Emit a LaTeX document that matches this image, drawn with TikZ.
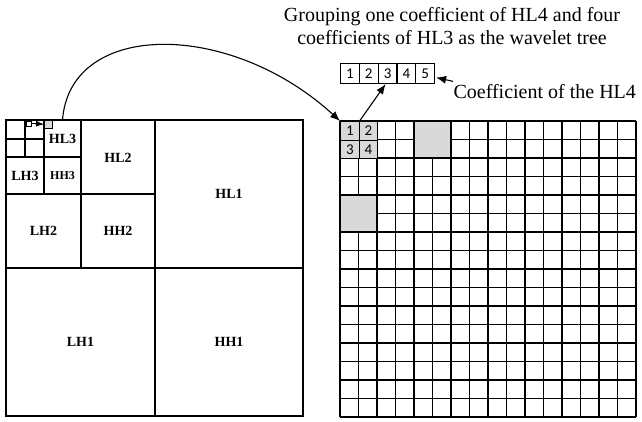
\documentclass[tikz,border=0pt]{standalone}
\usepackage{fontspec}
\setmainfont{Liberation Serif}
\newfontfamily\numfont{Carlito}
\usetikzlibrary{arrows.meta}
\begin{document}
\begin{tikzpicture}[x=1pt,y=-1pt,line width=1.1pt,
  lbl/.style={font=\fontsize{14}{16}\selectfont\bfseries,inner sep=0},
  region/.style={inner sep=0,outer sep=0},
  shadeblk/.style={fill=gray!30,draw=black,line width=1.1pt},
  numcell/.style={draw,fill=gray!30,minimum size=18.5pt,inner sep=0,anchor=north west,font=\numfont\fontsize{15}{15}\selectfont},
  rowbox/.style={draw,fill=white,minimum width=18.8pt,minimum height=20pt,inner sep=0,anchor=north west,font=\numfont\fontsize{15}{15}\selectfont},
  arr/.style={-{Latex[length=10pt,width=8pt]},line width=1.1pt},
  arrsmall/.style={-{Latex[length=8pt,width=6pt]},line width=0.8pt},
  txt/.style={font=\fontsize{20}{23.5}\selectfont,inner sep=0}]
\useasboundingbox (0,0) rectangle (642,421);
% ---------- left decomposition ----------
\draw (6,120) rectangle (303,416);
\draw (155,120) -- (155,416);
\draw (6,268) -- (303,268);
\draw (81,120) -- (81,268);
\draw (6,194) -- (155,194);
\draw (44,120) -- (44,194);
\draw (6,157) -- (81,157);
\draw (25,120) -- (25,157);
\draw (6,139) -- (44,139);
\node[region,lbl,minimum width=37pt,minimum height=37pt] (hl3) at (62.5,138.5) {HL3};
\node[lbl] (lh3) at (25,175.5) {LH3};
\node[lbl,font=\fontsize{12}{13}\selectfont\bfseries] (hh3) at (62.5,176) {HH3};
\node[lbl] (hl2) at (118,157.5) {HL2};
\node[lbl] (lh2) at (43.5,231) {LH2};
\node[lbl] (hh2) at (118,231) {HH2};
\node[lbl] (hl1) at (229,194) {HL1};
\node[lbl] (lh1) at (80.5,342) {LH1};
\node[lbl] (hh1) at (229,342) {HH1};
\node[draw,fill=gray!30,line width=0.6pt,minimum size=8pt,inner sep=0,anchor=north west] (gsq) at (44,120) {};
\node[draw,fill=white,line width=0.6pt,minimum size=5pt,inner sep=0,anchor=north west] (wsq) at (25.5,120.5) {};
\draw[arrsmall] (wsq.east) -- (gsq.west);
% ---------- right grid (16 x 16 cells of 18.5) ----------
\begin{scope}[shift={(340,121)}]
  \foreach \k in {0,1,2,3,4,5,6,7,8,9,10,11,12,13,14,15,16} {
    \pgfmathsetmacro{\p}{18.5*\k}
    \draw (\p,0) -- (\p,296);
    \draw (0,\p) -- (296,\p);
  }
\end{scope}
\draw[shadeblk] (414,121) rectangle (451,158);
\draw[shadeblk] (340,195) rectangle (377,232);
\node[numcell] (c1) at (340,121) {1};
\node[numcell] (c2) at (358.5,121) {2};
\node[numcell] (c3) at (340,139.5) {3};
\node[numcell] (c4) at (358.5,139.5) {4};
% ---------- row of boxes ----------
\node[rowbox] (b1) at (340,63) {1};
\node[rowbox] (b2) at (358.8,63) {2};
\node[rowbox] (b3) at (377.6,63) {3};
\node[rowbox] (b4) at (396.4,63) {4};
\node[rowbox] (b5) at (415.2,63) {5};
% ---------- texts ----------
\node[txt,align=center] (title) at (452,26) {Grouping one coefficient of HL4 and four\\coefficients of HL3 as the wavelet tree};
\node[txt,anchor=base west] (coef) at (453,98) {Coefficient of the HL4};
% ---------- arrows ----------
\draw[arr] (c1.north east) -- ([xshift=-2pt]b3.south);
\draw[arr] ([yshift=2pt]coef.north west) -- ([xshift=1pt,yshift=-4pt]b5.east);
\draw[arr] (hl3.north) .. controls (70,20) and (230,20) .. (c1.north west);
\end{tikzpicture}
\end{document}
